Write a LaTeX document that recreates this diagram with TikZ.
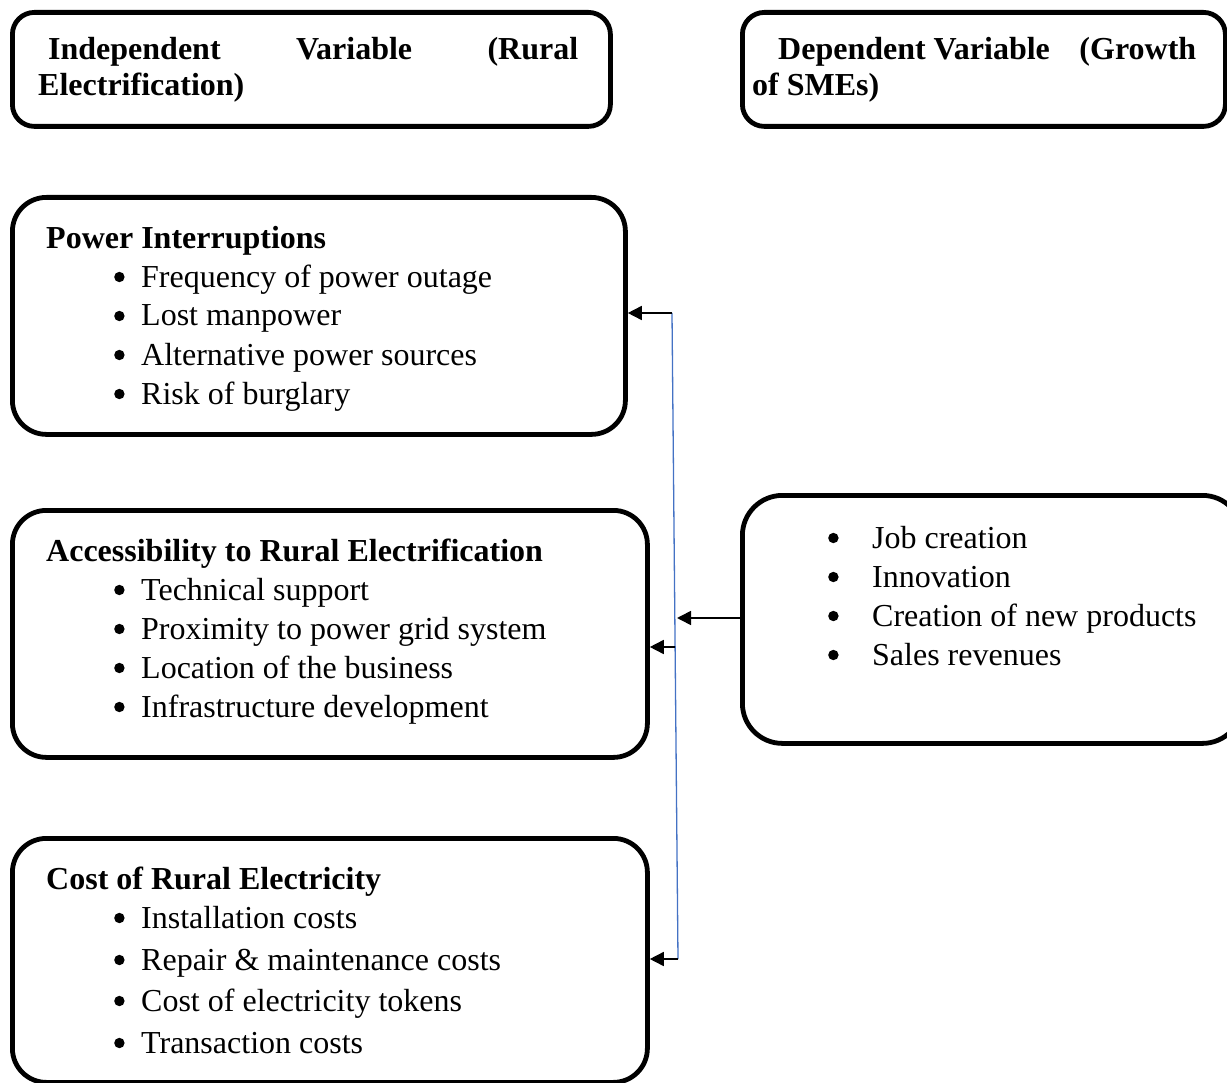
\documentclass[tikz,border=0pt]{standalone}
\usepackage{fontspec}
\setmainfont{Liberation Serif}
\usetikzlibrary{arrows.meta}
\definecolor{lineblue}{HTML}{4472C4}
\newcommand\bigbul{\tikz[baseline=0pt]\fill[black] (5.5pt,10pt) circle (5.2pt);}
\newcommand\bul[3]{\makebox[#1][l]{\hspace*{#2}\bigbul}#3}
\begin{document}
\begin{tikzpicture}[x=1pt,y=-1pt,
  rbox/.style={draw=black, line width=4.8pt, rounded corners=#1, anchor=north west, inner sep=0pt},
  txt/.style={anchor=base west, align=left, inner sep=0pt, font=\fontsize{32}{39}\selectfont},
  hdr/.style={anchor=base west, align=left, inner sep=0pt, font=\fontsize{32}{36}\selectfont\bfseries},
  arr/.style={line width=1.6pt, -{Triangle[length=14pt,width=14pt]}},
  blueline/.style={draw=lineblue, line width=1.3pt}]
\useasboundingbox (0,0) rectangle (1227,1083);
\clip (0,0) rectangle (1227,1083);

% header boxes
\node[rbox=22pt, minimum width=598pt, minimum height=114pt] (h1) at (10,10) {};
\node[rbox=22pt, minimum width=483pt, minimum height=114pt] (h2) at (740,10) {};
% (base anchor = baseline of the last line)
\node[hdr] (h1t) at (38,96) {\makebox[540pt][l]{\hspace*{10pt}Independent\hfill Variable\hfill (Rural}\\Electrification)};
\node[hdr] (h2t) at (752,96) {\makebox[444pt][l]{\hspace*{26pt}Dependent Variable\hfill(Growth}\\of SMEs)};

% independent variable boxes
\node[rbox=34pt, minimum width=613pt, minimum height=237pt] (b1) at (10,195) {};
\node[rbox=34pt, minimum width=635pt, minimum height=247pt] (b2) at (10,508) {};
\node[rbox=34pt, minimum width=635pt, minimum height=244pt] (b3) at (10,836) {};
% dependent variable box
\node[rbox=40pt, minimum width=500pt, minimum height=248pt] (dep) at (740,493) {};

\node[txt] (b1t) at (46,404) {\textbf{Power Interruptions}\\
\bul{95pt}{68pt}{Frequency of power outage}\\
\bul{95pt}{68pt}{Lost manpower}\\
\bul{95pt}{68pt}{Alternative power sources}\\
\bul{95pt}{68pt}{Risk of burglary}};

\node[txt] (b2t) at (46,717) {\textbf{Accessibility to Rural Electrification}\\
\bul{95pt}{68pt}{Technical support}\\
\bul{95pt}{68pt}{Proximity to power grid system}\\
\bul{95pt}{68pt}{Location of the business}\\
\bul{95pt}{68pt}{Infrastructure development}};

\node[txt] (b3t) at (46,1053) {\textbf{Cost of Rural Electricity}\\
\bul{95pt}{68pt}{Installation costs}\\[3pt]
\bul{95pt}{68pt}{Repair \& maintenance costs}\\[2pt]
\bul{95pt}{68pt}{Cost of electricity tokens}\\[3pt]
\bul{95pt}{68pt}{Transaction costs}};

\node[txt] (dept) at (760,665) {\bul{112pt}{68pt}{Job creation}\\
\bul{112pt}{68pt}{Innovation}\\
\bul{112pt}{68pt}{Creation of new products}\\
\bul{112pt}{68pt}{Sales revenues}};

% connectors
\coordinate (top) at (672,313);
\coordinate (bot) at (678,959);
\coordinate (mid) at (675,647);
\coordinate (jn) at (677,618);
\draw[blueline] (top) -- (bot);
\draw[arr] (top) -- (top -| b1.east);
\draw[arr] (mid) -- (mid -| b2.east);
\draw[arr] (bot) -- (bot -| b3.east);
\draw[arr] (dep.west |- jn) -- (jn);
\end{tikzpicture}
\end{document}
